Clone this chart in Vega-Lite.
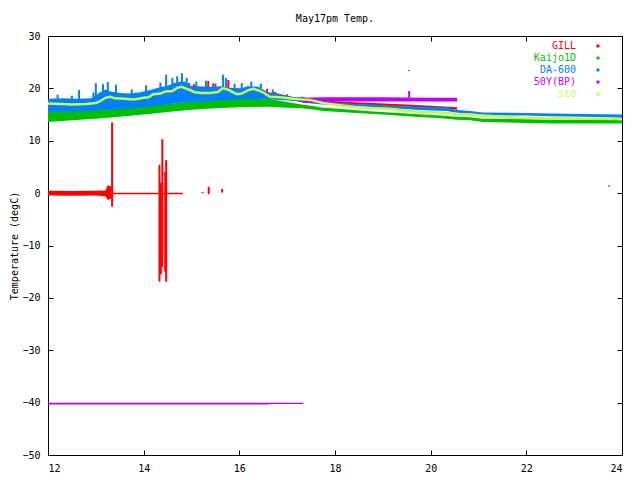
{
  "$schema": "https://vega.github.io/schema/vega-lite/v6.json",
  "width": 574,
  "height": 419,
  "autosize": "none",
  "padding": {"left": 48, "top": 36, "right": 18, "bottom": 25},
  "background": "white",
  "title": {"text": "May17pm Temp.", "font": "DejaVu Sans Mono", "fontSize": 10, "fontWeight": "normal", "color": "black", "offset": 7},
  "datasets": {
    "band": [
      {"s": "GILL", "seg": "a", "t": 12.0, "lo": -0.45, "hi": 0.45},
      {"s": "GILL", "seg": "a", "t": 12.5, "lo": -0.5, "hi": 0.4},
      {"s": "GILL", "seg": "a", "t": 13.0, "lo": -0.45, "hi": 0.45},
      {"s": "GILL", "seg": "a", "t": 13.2, "lo": -0.6, "hi": 0.5},
      {"s": "GILL", "seg": "a", "t": 13.25, "lo": -1.3, "hi": 1.5},
      {"s": "GILL", "seg": "a", "t": 13.33, "lo": -1.0, "hi": 1.2},
      {"s": "GILL", "seg": "b", "t": 13.34, "lo": -0.2, "hi": 0.05},
      {"s": "GILL", "seg": "b", "t": 14.82, "lo": -0.2, "hi": 0.05},
      {"s": "GILL", "seg": "c", "t": 14.9, "lo": 18.5, "hi": 20.5},
      {"s": "GILL", "seg": "c", "t": 15.3, "lo": 18.6, "hi": 20.3},
      {"s": "GILL", "seg": "c", "t": 16.0, "lo": 18.5, "hi": 20.0},
      {"s": "GILL", "seg": "c", "t": 16.8, "lo": 18.2, "hi": 19.0},
      {"s": "GILL", "seg": "c", "t": 17.33, "lo": 17.3, "hi": 17.9},
      {"s": "GILL", "seg": "c", "t": 18.1, "lo": 17.1, "hi": 17.5},
      {"s": "GILL", "seg": "c", "t": 18.8, "lo": 16.8, "hi": 17.2},
      {"s": "GILL", "seg": "c", "t": 19.5, "lo": 16.5, "hi": 16.9},
      {"s": "GILL", "seg": "c", "t": 20.2, "lo": 16.2, "hi": 16.6},
      {"s": "GILL", "seg": "c", "t": 20.55, "lo": 15.9, "hi": 16.4},
      {"s": "Kaijo1D", "seg": "a", "t": 12.0, "lo": 13.6, "hi": 15.6},
      {"s": "Kaijo1D", "seg": "a", "t": 12.5, "lo": 13.9, "hi": 15.7},
      {"s": "Kaijo1D", "seg": "a", "t": 13.0, "lo": 14.2, "hi": 15.9},
      {"s": "Kaijo1D", "seg": "a", "t": 13.5, "lo": 14.6, "hi": 16.1},
      {"s": "Kaijo1D", "seg": "a", "t": 14.0, "lo": 15.0, "hi": 16.5},
      {"s": "Kaijo1D", "seg": "a", "t": 14.6, "lo": 15.6, "hi": 17.1},
      {"s": "Kaijo1D", "seg": "a", "t": 15.0, "lo": 15.9, "hi": 17.5},
      {"s": "Kaijo1D", "seg": "a", "t": 15.5, "lo": 16.2, "hi": 17.8},
      {"s": "Kaijo1D", "seg": "a", "t": 16.0, "lo": 16.4, "hi": 18.0},
      {"s": "Kaijo1D", "seg": "a", "t": 16.6, "lo": 16.5, "hi": 18.0},
      {"s": "Kaijo1D", "seg": "a", "t": 17.0, "lo": 16.3, "hi": 17.4},
      {"s": "Kaijo1D", "seg": "a", "t": 17.3, "lo": 16.2, "hi": 16.9},
      {"s": "Kaijo1D", "seg": "a", "t": 17.5, "lo": 16.0, "hi": 16.7},
      {"s": "Kaijo1D", "seg": "a", "t": 17.75, "lo": 15.7, "hi": 16.3},
      {"s": "Kaijo1D", "seg": "a", "t": 18.1, "lo": 15.5, "hi": 16.1},
      {"s": "Kaijo1D", "seg": "a", "t": 18.46, "lo": 15.3, "hi": 15.8},
      {"s": "Kaijo1D", "seg": "a", "t": 18.8, "lo": 15.1, "hi": 15.6},
      {"s": "Kaijo1D", "seg": "a", "t": 19.15, "lo": 14.9, "hi": 15.4},
      {"s": "Kaijo1D", "seg": "a", "t": 19.5, "lo": 14.7, "hi": 15.2},
      {"s": "Kaijo1D", "seg": "a", "t": 19.84, "lo": 14.5, "hi": 15.0},
      {"s": "Kaijo1D", "seg": "a", "t": 20.2, "lo": 14.3, "hi": 14.8},
      {"s": "Kaijo1D", "seg": "a", "t": 20.55, "lo": 14.0, "hi": 14.6},
      {"s": "Kaijo1D", "seg": "a", "t": 20.82, "lo": 13.9, "hi": 14.5},
      {"s": "Kaijo1D", "seg": "a", "t": 21.09, "lo": 13.6, "hi": 14.2},
      {"s": "Kaijo1D", "seg": "a", "t": 22.0, "lo": 13.4, "hi": 14.1},
      {"s": "Kaijo1D", "seg": "a", "t": 22.5, "lo": 13.3, "hi": 14.0},
      {"s": "Kaijo1D", "seg": "a", "t": 23.2, "lo": 13.3, "hi": 14.0},
      {"s": "Kaijo1D", "seg": "a", "t": 24.0, "lo": 13.3, "hi": 14.0},
      {"s": "DA-600", "seg": "a", "t": 12.0, "lo": 15.5, "hi": 18.0},
      {"s": "DA-600", "seg": "a", "t": 12.3, "lo": 15.5, "hi": 18.1},
      {"s": "DA-600", "seg": "a", "t": 12.6, "lo": 15.6, "hi": 18.0},
      {"s": "DA-600", "seg": "a", "t": 12.9, "lo": 15.7, "hi": 18.1},
      {"s": "DA-600", "seg": "a", "t": 13.1, "lo": 15.8, "hi": 19.3},
      {"s": "DA-600", "seg": "a", "t": 13.2, "lo": 15.9, "hi": 19.8},
      {"s": "DA-600", "seg": "a", "t": 13.3, "lo": 15.9, "hi": 19.4},
      {"s": "DA-600", "seg": "a", "t": 13.5, "lo": 16.0, "hi": 19.1},
      {"s": "DA-600", "seg": "a", "t": 13.7, "lo": 16.1, "hi": 19.0},
      {"s": "DA-600", "seg": "a", "t": 13.9, "lo": 16.3, "hi": 19.2},
      {"s": "DA-600", "seg": "a", "t": 14.1, "lo": 16.5, "hi": 19.6},
      {"s": "DA-600", "seg": "a", "t": 14.3, "lo": 16.7, "hi": 20.1},
      {"s": "DA-600", "seg": "a", "t": 14.5, "lo": 16.9, "hi": 20.5},
      {"s": "DA-600", "seg": "a", "t": 14.7, "lo": 17.2, "hi": 21.2},
      {"s": "DA-600", "seg": "a", "t": 14.85, "lo": 17.3, "hi": 21.3},
      {"s": "DA-600", "seg": "a", "t": 15.0, "lo": 17.4, "hi": 20.4},
      {"s": "DA-600", "seg": "a", "t": 15.3, "lo": 17.5, "hi": 20.2},
      {"s": "DA-600", "seg": "a", "t": 15.6, "lo": 17.7, "hi": 20.4},
      {"s": "DA-600", "seg": "a", "t": 15.8, "lo": 17.8, "hi": 20.1},
      {"s": "DA-600", "seg": "a", "t": 16.0, "lo": 17.9, "hi": 20.0},
      {"s": "DA-600", "seg": "a", "t": 16.2, "lo": 17.9, "hi": 20.4},
      {"s": "DA-600", "seg": "a", "t": 16.4, "lo": 17.9, "hi": 20.3},
      {"s": "DA-600", "seg": "a", "t": 16.6, "lo": 17.9, "hi": 19.2},
      {"s": "DA-600", "seg": "a", "t": 16.85, "lo": 17.8, "hi": 18.9},
      {"s": "DA-600", "seg": "a", "t": 17.0, "lo": 17.7, "hi": 18.5},
      {"s": "DA-600", "seg": "a", "t": 17.2, "lo": 17.6, "hi": 18.3},
      {"s": "DA-600", "seg": "a", "t": 17.33, "lo": 17.5, "hi": 18.4},
      {"s": "DA-600", "seg": "a", "t": 17.5, "lo": 17.1, "hi": 17.9},
      {"s": "DA-600", "seg": "a", "t": 17.75, "lo": 16.9, "hi": 17.4},
      {"s": "DA-600", "seg": "a", "t": 18.1, "lo": 16.8, "hi": 17.2},
      {"s": "DA-600", "seg": "a", "t": 18.46, "lo": 16.6, "hi": 17.0},
      {"s": "DA-600", "seg": "a", "t": 18.8, "lo": 16.4, "hi": 16.9},
      {"s": "DA-600", "seg": "a", "t": 19.15, "lo": 16.2, "hi": 16.7},
      {"s": "DA-600", "seg": "a", "t": 19.5, "lo": 16.0, "hi": 16.6},
      {"s": "DA-600", "seg": "a", "t": 19.84, "lo": 15.8, "hi": 16.5},
      {"s": "DA-600", "seg": "a", "t": 20.34, "lo": 15.7, "hi": 16.4},
      {"s": "DA-600", "seg": "a", "t": 20.5, "lo": 15.4, "hi": 15.9},
      {"s": "DA-600", "seg": "a", "t": 20.82, "lo": 15.2, "hi": 15.7},
      {"s": "DA-600", "seg": "a", "t": 21.09, "lo": 14.9, "hi": 15.4},
      {"s": "DA-600", "seg": "a", "t": 22.0, "lo": 14.8, "hi": 15.3},
      {"s": "DA-600", "seg": "a", "t": 22.5, "lo": 14.7, "hi": 15.2},
      {"s": "DA-600", "seg": "a", "t": 23.2, "lo": 14.6, "hi": 15.1},
      {"s": "DA-600", "seg": "a", "t": 24.0, "lo": 14.4, "hi": 15.0},
      {"s": "50Y(BP)", "seg": "a", "t": 12.0, "lo": -40.35, "hi": -40.0},
      {"s": "50Y(BP)", "seg": "a", "t": 16.6, "lo": -40.35, "hi": -40.0},
      {"s": "50Y(BP)", "seg": "a", "t": 16.62, "lo": -40.25, "hi": -40.0},
      {"s": "50Y(BP)", "seg": "a", "t": 17.33, "lo": -40.25, "hi": -40.0},
      {"s": "50Y(BP)", "seg": "b", "t": 17.33, "lo": 17.2, "hi": 18.2},
      {"s": "50Y(BP)", "seg": "b", "t": 17.7, "lo": 17.3, "hi": 18.3},
      {"s": "50Y(BP)", "seg": "b", "t": 18.0, "lo": 17.5, "hi": 18.3},
      {"s": "50Y(BP)", "seg": "b", "t": 19.0, "lo": 17.5, "hi": 18.3},
      {"s": "50Y(BP)", "seg": "b", "t": 20.0, "lo": 17.5, "hi": 18.2},
      {"s": "50Y(BP)", "seg": "b", "t": 20.55, "lo": 17.5, "hi": 18.2}
    ],
    "spike": [
      {"s": "GILL", "t": 13.34, "lo": -2.6, "hi": 13.5},
      {"s": "GILL", "t": 14.33, "lo": -16.9, "hi": 5.4},
      {"s": "GILL", "t": 14.36, "lo": -15.5, "hi": 2.0},
      {"s": "GILL", "t": 14.39, "lo": -14.1, "hi": 10.3},
      {"s": "GILL", "t": 14.45, "lo": -15.0, "hi": 4.0},
      {"s": "GILL", "t": 14.47, "lo": -16.9, "hi": 6.3},
      {"s": "GILL", "t": 14.95, "lo": 20.0, "hi": 21.0},
      {"s": "GILL", "t": 15.05, "lo": 20.0, "hi": 20.8},
      {"s": "GILL", "t": 15.35, "lo": 20.0, "hi": 21.4},
      {"s": "GILL", "t": 15.5, "lo": 20.0, "hi": 20.9},
      {"s": "GILL", "t": 15.77, "lo": 20.0, "hi": 21.6},
      {"s": "GILL", "t": 16.18, "lo": 19.8, "hi": 20.4},
      {"s": "GILL", "t": 16.58, "lo": 19.2, "hi": 19.9},
      {"s": "GILL", "t": 16.75, "lo": 18.8, "hi": 19.3},
      {"s": "GILL", "t": 15.23, "lo": 0.0, "hi": 0.2},
      {"s": "GILL", "t": 15.36, "lo": -0.2, "hi": 1.2},
      {"s": "GILL", "t": 15.64, "lo": 0.1, "hi": 0.8},
      {"s": "Kaijo1D", "t": 23.73, "lo": 1.2, "hi": 1.5},
      {"s": "DA-600", "t": 12.2, "lo": 17.8, "hi": 18.8},
      {"s": "DA-600", "t": 12.5, "lo": 17.8, "hi": 18.6},
      {"s": "DA-600", "t": 12.65, "lo": 17.8, "hi": 19.7},
      {"s": "DA-600", "t": 12.95, "lo": 17.9, "hi": 19.2},
      {"s": "DA-600", "t": 13.0, "lo": 18.0, "hi": 21.0},
      {"s": "DA-600", "t": 13.15, "lo": 18.5, "hi": 20.8},
      {"s": "DA-600", "t": 13.25, "lo": 18.5, "hi": 21.2},
      {"s": "DA-600", "t": 13.42, "lo": 18.5, "hi": 20.7},
      {"s": "DA-600", "t": 13.75, "lo": 18.6, "hi": 19.8},
      {"s": "DA-600", "t": 14.05, "lo": 19.0, "hi": 20.6},
      {"s": "DA-600", "t": 14.35, "lo": 19.5, "hi": 21.1},
      {"s": "DA-600", "t": 14.47, "lo": 20.0, "hi": 22.6},
      {"s": "DA-600", "t": 14.6, "lo": 20.0, "hi": 22.0},
      {"s": "DA-600", "t": 14.7, "lo": 20.5, "hi": 22.3},
      {"s": "DA-600", "t": 14.8, "lo": 20.5, "hi": 22.9},
      {"s": "DA-600", "t": 14.9, "lo": 20.5, "hi": 22.0},
      {"s": "DA-600", "t": 15.1, "lo": 20.0, "hi": 21.3},
      {"s": "DA-600", "t": 15.3, "lo": 20.0, "hi": 21.5},
      {"s": "DA-600", "t": 15.45, "lo": 20.0, "hi": 21.0},
      {"s": "DA-600", "t": 15.66, "lo": 20.2, "hi": 22.6},
      {"s": "DA-600", "t": 15.72, "lo": 20.2, "hi": 22.0},
      {"s": "DA-600", "t": 15.9, "lo": 19.8, "hi": 20.9},
      {"s": "DA-600", "t": 16.05, "lo": 20.0, "hi": 21.0},
      {"s": "DA-600", "t": 16.25, "lo": 20.3, "hi": 21.3},
      {"s": "DA-600", "t": 16.45, "lo": 20.0, "hi": 20.9},
      {"s": "DA-600", "t": 16.7, "lo": 19.0, "hi": 19.8},
      {"s": "DA-600", "t": 17.0, "lo": 18.3, "hi": 18.9},
      {"s": "DA-600", "t": 17.6, "lo": 17.5, "hi": 18.0},
      {"s": "50Y(BP)", "t": 19.55, "lo": 18.2, "hi": 19.5},
      {"s": "50Y(BP)", "t": 19.55, "lo": 23.3, "hi": 23.5}
    ],
    "std": [
      {"s": "std", "t": 12.0, "v": 17.1},
      {"s": "std", "t": 12.3, "v": 17.0},
      {"s": "std", "t": 12.5, "v": 16.9},
      {"s": "std", "t": 12.8, "v": 17.0},
      {"s": "std", "t": 13.0, "v": 17.2},
      {"s": "std", "t": 13.1, "v": 17.6},
      {"s": "std", "t": 13.2, "v": 18.2},
      {"s": "std", "t": 13.3, "v": 18.4},
      {"s": "std", "t": 13.4, "v": 18.1},
      {"s": "std", "t": 13.6, "v": 18.0},
      {"s": "std", "t": 13.8, "v": 17.9},
      {"s": "std", "t": 14.0, "v": 18.2},
      {"s": "std", "t": 14.1, "v": 18.3},
      {"s": "std", "t": 14.2, "v": 18.9},
      {"s": "std", "t": 14.35, "v": 19.0},
      {"s": "std", "t": 14.45, "v": 19.4},
      {"s": "std", "t": 14.6, "v": 19.5},
      {"s": "std", "t": 14.7, "v": 20.1},
      {"s": "std", "t": 14.8, "v": 20.3},
      {"s": "std", "t": 14.9, "v": 19.9},
      {"s": "std", "t": 14.97, "v": 19.7},
      {"s": "std", "t": 15.05, "v": 19.3},
      {"s": "std", "t": 15.2, "v": 19.1},
      {"s": "std", "t": 15.4, "v": 19.1},
      {"s": "std", "t": 15.55, "v": 19.3},
      {"s": "std", "t": 15.65, "v": 20.0},
      {"s": "std", "t": 15.75, "v": 19.8},
      {"s": "std", "t": 15.95, "v": 18.9},
      {"s": "std", "t": 16.05, "v": 19.0},
      {"s": "std", "t": 16.2, "v": 19.7},
      {"s": "std", "t": 16.3, "v": 19.9},
      {"s": "std", "t": 16.4, "v": 19.6},
      {"s": "std", "t": 16.5, "v": 19.2},
      {"s": "std", "t": 16.64, "v": 18.4},
      {"s": "std", "t": 16.85, "v": 18.3},
      {"s": "std", "t": 17.12, "v": 18.0},
      {"s": "std", "t": 17.3, "v": 17.9},
      {"s": "std", "t": 17.48, "v": 17.8},
      {"s": "std", "t": 17.75, "v": 17.2},
      {"s": "std", "t": 18.1, "v": 16.8},
      {"s": "std", "t": 18.46, "v": 16.4},
      {"s": "std", "t": 18.8, "v": 16.2},
      {"s": "std", "t": 19.15, "v": 16.1},
      {"s": "std", "t": 19.5, "v": 15.7},
      {"s": "std", "t": 19.84, "v": 15.5},
      {"s": "std", "t": 20.2, "v": 15.4},
      {"s": "std", "t": 20.55, "v": 15.1},
      {"s": "std", "t": 20.82, "v": 15.0},
      {"s": "std", "t": 21.09, "v": 14.8},
      {"s": "std", "t": 21.5, "v": 14.6},
      {"s": "std", "t": 21.93, "v": 14.4},
      {"s": "std", "t": 22.5, "v": 14.3},
      {"s": "std", "t": 23.0, "v": 14.25},
      {"s": "std", "t": 23.9, "v": 14.15},
      {"s": "std", "t": 24.0, "v": 14.1}
    ]
  },
  "layer": [
    {
      "layer": [
        {
          "data": {"name": "band"},
          "transform": [{"filter": "datum.s == 'GILL'"}],
          "mark": {"type": "area", "opacity": 1},
          "encoding": {
            "x": {"field": "t", "type": "quantitative", "scale": {"domain": [12, 24], "nice": false},
              "axis": {"values": [12, 14, 16, 18, 20, 22, 24], "title": null, "labelPadding": 13}},
            "y": {"field": "hi", "type": "quantitative", "stack": null, "scale": {"domain": [-50, 30], "nice": false},
              "axis": {"values": [-50, -40, -30, -20, -10, 0, 10, 20, 30], "title": "Temperature (degC)", "labelPadding": 13, "titlePadding": 2}},
            "y2": {"field": "lo"},
            "detail": {"field": "seg"},
            "color": {"field": "s", "type": "nominal",
              "scale": {"domain": ["GILL", "Kaijo1D", "DA-600", "50Y(BP)", "std"], "range": ["#ff0000", "#00c000", "#0080ff", "#c000ff", "#c0ff40"]},
              "legend": {
                "title": null, "orient": "none", "legendX": 522, "legendY": 5, "padding": 0,
                "labelFont": "DejaVu Sans Mono", "labelFontSize": 10, "labelAlign": "right",
                "labelColor": {"expr": "scale('color', datum.value)"},
                "labelOffset": -27, "symbolOffset": 23,
                "symbolType": "square", "symbolSize": 2, "rowPadding": 2
              }}
          }
        },
        {
          "data": {"name": "spike"},
          "transform": [{"filter": "datum.s == 'GILL'"}],
          "mark": {"type": "rule", "strokeWidth": 2},
          "encoding": {
            "x": {"field": "t", "type": "quantitative"},
            "y": {"field": "hi", "type": "quantitative"},
            "y2": {"field": "lo"},
            "color": {"field": "s", "type": "nominal"}
          }
        },
        {
          "data": {"name": "band"},
          "transform": [{"filter": "datum.s == 'Kaijo1D'"}],
          "mark": {"type": "area"},
          "encoding": {
            "x": {"field": "t", "type": "quantitative"},
            "y": {"field": "hi", "type": "quantitative", "stack": null},
            "y2": {"field": "lo"},
            "detail": {"field": "seg"},
            "color": {"field": "s", "type": "nominal"}
          }
        },
        {
          "data": {"name": "spike"},
          "transform": [{"filter": "datum.s == 'Kaijo1D'"}],
          "mark": {"type": "rule", "strokeWidth": 2},
          "encoding": {
            "x": {"field": "t", "type": "quantitative"},
            "y": {"field": "hi", "type": "quantitative"},
            "y2": {"field": "lo"},
            "color": {"field": "s", "type": "nominal"}
          }
        },
        {
          "data": {"name": "band"},
          "transform": [{"filter": "datum.s == 'DA-600'"}],
          "mark": {"type": "area"},
          "encoding": {
            "x": {"field": "t", "type": "quantitative"},
            "y": {"field": "hi", "type": "quantitative", "stack": null},
            "y2": {"field": "lo"},
            "detail": {"field": "seg"},
            "color": {"field": "s", "type": "nominal"}
          }
        },
        {
          "data": {"name": "spike"},
          "transform": [{"filter": "datum.s == 'DA-600'"}],
          "mark": {"type": "rule", "strokeWidth": 2},
          "encoding": {
            "x": {"field": "t", "type": "quantitative"},
            "y": {"field": "hi", "type": "quantitative"},
            "y2": {"field": "lo"},
            "color": {"field": "s", "type": "nominal"}
          }
        },
        {
          "data": {"name": "band"},
          "transform": [{"filter": "datum.s == '50Y(BP)'"}],
          "mark": {"type": "area"},
          "encoding": {
            "x": {"field": "t", "type": "quantitative"},
            "y": {"field": "hi", "type": "quantitative", "stack": null},
            "y2": {"field": "lo"},
            "detail": {"field": "seg"},
            "color": {"field": "s", "type": "nominal"}
          }
        },
        {
          "data": {"name": "spike"},
          "transform": [{"filter": "datum.s == '50Y(BP)'"}],
          "mark": {"type": "rule", "strokeWidth": 2},
          "encoding": {
            "x": {"field": "t", "type": "quantitative"},
            "y": {"field": "hi", "type": "quantitative"},
            "y2": {"field": "lo"},
            "color": {"field": "s", "type": "nominal"}
          }
        }
      ]
    },
    {
      "data": {"name": "std"},
      "mark": {"type": "line", "strokeWidth": 2.5},
      "encoding": {
        "x": {"field": "t", "type": "quantitative",
          "axis": {"orient": "top", "values": [12, 14, 16, 18, 20, 22, 24], "labels": false, "title": null}},
        "y": {"field": "v", "type": "quantitative",
          "axis": {"orient": "right", "values": [-50, -40, -30, -20, -10, 0, 10, 20, 30], "labels": false, "title": null}},
        "color": {"field": "s", "type": "nominal"}
      }
    }
  ],
  "resolve": {"axis": {"x": "independent", "y": "independent"}},
  "config": {
    "view": {"stroke": "black", "strokeWidth": 1},
    "axis": {
      "grid": false,
      "domainColor": "black",
      "tickColor": "black",
      "tickSize": -5,
      "labelFont": "DejaVu Sans Mono",
      "labelFontSize": 10,
      "labelColor": "black",
      "titleFont": "DejaVu Sans Mono",
      "titleFontSize": 10,
      "titleFontWeight": "normal",
      "titleColor": "black"
    }
  }
}
